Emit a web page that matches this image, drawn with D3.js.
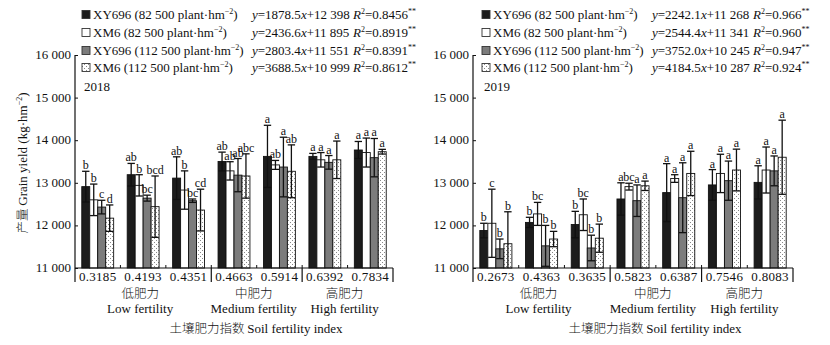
<!DOCTYPE html>
<html lang="en">
<head>
<meta charset="UTF-8">
<title>Grain yield vs soil fertility index</title>
<script src="https://d3js.org/d3.v7.min.js"></script>
<style>
  body { margin: 0; background: #fff; }
  text { font-family: "Liberation Serif", "Times New Roman", serif; font-size: 13px; fill: #111; }
  .cjk { font-family: "Noto Sans CJK SC", sans-serif; font-size: 12.5px; font-weight: 300; }
  .sig { font-size: 12px; }
</style>
</head>
<body>
<div id="chart"></div>
<script>
// ---- data ----
const seriesNames = [
  ["XY696 (82 500 plant·hm", ")"],
  ["XM6 (82 500 plant·hm", ")"],
  ["XY696 (112 500 plant·hm", ")"],
  ["XM6 (112 500 plant·hm", ")"]
];
const yTicks = [11000, 12000, 13000, 14000, 15000, 16000];

const cats2018 = ["0.3185", "0.4193", "0.4351", "0.4663", "0.5914", "0.6392", "0.7834"];
const mean2018 = [
  [12910, 13190, 13110, 13500, 13620, 13620, 13770],
  [12600, 12940, 12830, 13280, 13420, 13540, 13710],
  [12430, 12640, 12580, 13180, 13370, 13480, 13590],
  [12170, 12440, 12360, 13160, 13270, 13540, 13730]
];
const err2018 = [
  [360, 265, 500, 220, 730, 70, 200],
  [370, 250, 450, 215, 105, 170, 340],
  [160, 70, 40, 390, 700, 160, 450],
  [310, 720, 490, 520, 620, 440, 55]
];
const letters2018 = [
  ["b", "ab", "ab", "ab", "a", "a", "a"],
  ["b", "b", "b", "ab", "ab", "a", "a"],
  ["c", "bc", "bc", "ab", "a", "a", "a"],
  ["d", "bcd", "cd", "abc", "ab", "a", "a"]
];
const eq2018 = [["1878.5", "12 398", "0.8456"], ["2436.6", "11 895", "0.8919"],
                ["2803.4", "11 551", "0.8391"], ["3688.5", "10 999", "0.8612"]];

const cats2019 = ["0.2673", "0.4363", "0.3635", "0.5823", "0.6387", "0.7546", "0.8083"];
const mean2019 = [
  [11880, 12070, 12020, 12620, 12770, 12950, 13010],
  [12050, 12270, 12250, 12910, 13100, 13220, 13300],
  [11450, 11520, 11470, 12580, 12650, 13050, 13280],
  [11570, 11680, 11700, 12930, 13220, 13300, 13600]
];
const err2019 = [
  [170, 120, 310, 380, 680, 360, 390],
  [800, 270, 370, 80, 90, 450, 540],
  [230, 480, 300, 370, 820, 460, 350],
  [750, 180, 330, 110, 520, 490, 870]
];
const letters2019 = [
  ["b", "b", "b", "a", "a", "a", "a"],
  ["c", "bc", "bc", "bc", "a", "a", "a"],
  ["b", "b", "b", "a", "a", "a", "a"],
  ["b", "b", "b", "a", "a", "a", "a"]
];
const eq2019 = [["2242.1", "11 268", "0.966"], ["2544.4", "11 341", "0.960"],
                ["3752.0", "10 245", "0.947"], ["4184.5", "10 287", "0.924"]];

const groupsCn = ["低肥力", "中肥力", "高肥力"];
const groupsEn = ["Low fertility", "Medium fertility", "High fertility"];
const groupSpans = [[0, 3], [3, 5], [5, 7]];

// ---- drawing ----
const W = 830, H = 345;
const svg = d3.select("#chart").append("svg").attr("width", W).attr("height", H);

const defs = svg.append("defs");
const pat = defs.append("pattern").attr("id", "dots")
  .attr("patternUnits", "userSpaceOnUse").attr("width", 4).attr("height", 4);
pat.append("rect").attr("width", 4).attr("height", 4).attr("fill", "#fff");
pat.append("rect").attr("x", 0).attr("y", 0).attr("width", 1).attr("height", 1).attr("fill", "#888");
pat.append("rect").attr("x", 2).attr("y", 2).attr("width", 1).attr("height", 1).attr("fill", "#888");

const fills = ["#1c1c1c", "#ffffff", "#7c7c7c", "url(#dots)"];
const fmt = d => d3.format(",")(d).replace(",", " ");

function panel(o) {
  const g = svg.append("g");
  const y = d3.scaleLinear().domain([11000, 16000]).range([268, 55]);
  const x = d3.scaleBand().domain(o.cats).range([o.x0, o.x1]);
  const inner = d3.scaleBand().domain(d3.range(4)).range([0, x.bandwidth()])
    .paddingOuter(0.85);

  // bars
  o.mean.forEach((vals, s) => {
    g.append("g").selectAll("rect").data(vals).join("rect")
      .attr("x", (d, i) => x(o.cats[i]) + inner(s))
      .attr("width", inner.bandwidth())
      .attr("y", d => y(d))
      .attr("height", d => y(11000) - y(d))
      .attr("fill", fills[s])
      .attr("stroke", "#111").attr("stroke-width", 0.9);
  });

  // error bars + letters
  o.mean.forEach((vals, s) => {
    const eg = g.append("g").attr("stroke", "#111").attr("stroke-width", 1.3);
    vals.forEach((v, i) => {
      const cx = x(o.cats[i]) + inner(s) + inner.bandwidth() / 2;
      const hi = y(v + o.err[s][i]);
      const lo = y(Math.max(11000, v - o.err[s][i]));
      const hw = inner.bandwidth() / 2 - 0.3;
      eg.append("line").attr("x1", cx).attr("x2", cx).attr("y1", hi).attr("y2", lo);
      eg.append("line").attr("x1", cx - hw).attr("x2", cx + hw).attr("y1", hi).attr("y2", hi);
      if (v - o.err[s][i] > 11000)
        eg.append("line").attr("x1", cx - hw).attr("x2", cx + hw).attr("y1", lo).attr("y2", lo);
      g.append("text").attr("class", "sig").attr("x", cx).attr("y", hi - 2)
        .attr("text-anchor", "middle").text(o.letters[s][i]);
    });
  });

  // y axis
  const ya = g.append("g").attr("transform", `translate(${o.x0},0)`)
    .call(d3.axisRight(y).tickValues(yTicks).tickSize(3).tickFormat(""));
  ya.select(".domain").remove();
  ya.selectAll("line").attr("stroke", "#111");
  g.append("line").attr("x1", o.x0).attr("x2", o.x0).attr("y1", y(16000)).attr("y2", 282)
    .attr("stroke", "#111").attr("stroke-width", 1.2);
  g.append("g").selectAll("text").data(yTicks).join("text")
    .attr("x", o.x0 - 4).attr("y", d => y(d) + 4)
    .attr("text-anchor", "end").text(fmt);

  // x axis
  g.append("line").attr("x1", o.x0).attr("x2", o.x1).attr("y1", 268).attr("y2", 268)
    .attr("stroke", "#111").attr("stroke-width", 1.2);
  g.append("g").selectAll("line").data(o.cats.slice(1)).join("line")
    .attr("x1", d => x(d)).attr("x2", d => x(d))
    .attr("y1", 268).attr("y2", 265).attr("stroke", "#111");
  groupSpans.forEach(([a, b]) => {
    const xe = b < o.cats.length ? x(o.cats[b]) : o.x1;
    g.append("line").attr("x1", xe).attr("x2", xe).attr("y1", 268).attr("y2", 282)
      .attr("stroke", "#111").attr("stroke-width", 1.2);
  });
  g.append("g").selectAll("text").data(o.cats).join("text")
    .attr("x", d => x(d) + x.bandwidth() / 2).attr("y", 281)
    .attr("text-anchor", "middle").attr("letter-spacing", "0.3px").text(d => d);
  groupSpans.forEach(([a, b], k) => {
    const cx = (x(o.cats[a]) + (b < o.cats.length ? x(o.cats[b]) : o.x1)) / 2;
    g.append("text").attr("class", "cjk").attr("x", cx - 3).attr("y", 298)
      .attr("text-anchor", "middle").text(groupsCn[k]);
    g.append("text").attr("x", cx - 3).attr("y", 313)
      .attr("text-anchor", "middle").text(groupsEn[k]);
  });
  const t = g.append("text").attr("x", (o.x0 + o.x1) / 2 + 22).attr("y", 333)
    .attr("text-anchor", "middle");
  t.append("tspan").attr("class", "cjk").text("土壤肥力指数 ");
  t.append("tspan").text("Soil fertility index");

  // legend
  const rowY = [15, 33, 51, 68];
  seriesNames.forEach((nm, s) => {
    g.append("rect").attr("x", o.lx).attr("y", rowY[s] - 4.5).attr("width", 8).attr("height", 8)
      .attr("fill", fills[s]).attr("stroke", "#333").attr("stroke-width", 0.9);
    const lt = g.append("text").attr("x", o.lx + 11).attr("y", rowY[s] + 4);
    lt.append("tspan").text(nm[0]);
    lt.append("tspan").attr("dy", -5).attr("font-size", 8).text("−2");
    lt.append("tspan").attr("dy", 5).text(nm[1]);
    const e = o.eq[s];
    const et = g.append("text").attr("x", o.ex).attr("y", rowY[s] + 4);
    et.append("tspan").attr("font-style", "italic").text("y");
    et.append("tspan").text("=" + e[0]);
    et.append("tspan").attr("font-style", "italic").text("x");
    et.append("tspan").text("+" + e[1]);
    const rt = g.append("text").attr("x", o.rx).attr("y", rowY[s] + 4);
    rt.append("tspan").attr("font-style", "italic").text("R");
    rt.append("tspan").attr("dy", -5).attr("font-size", 8).text("2");
    rt.append("tspan").attr("dy", 5).text("=" + e[2]);
    rt.append("tspan").attr("dy", -5).attr("font-size", 8).text("**");
  });
  g.append("text").attr("x", o.lx + 2).attr("y", 91).text(o.year);
}

panel({ x0: 75, x1: 393, cats: cats2018, mean: mean2018, err: err2018, letters: letters2018,
        eq: eq2018, year: "2018", lx: 82, ex: 252, rx: 353 });
panel({ x0: 473, x1: 793, cats: cats2019, mean: mean2019, err: err2019, letters: letters2019,
        eq: eq2019, year: "2019", lx: 482, ex: 652, rx: 753 });

// y axis title (left panel only)
const yt = svg.append("text").attr("transform", "translate(27,163) rotate(-90)")
  .attr("text-anchor", "middle");
yt.append("tspan").attr("class", "cjk").text("产量 ");
yt.append("tspan").text("Grain yield (kg·hm");
yt.append("tspan").attr("dy", -5).attr("font-size", 8).text("−2");
yt.append("tspan").attr("dy", 5).text(")");
</script>
</body>
</html>
